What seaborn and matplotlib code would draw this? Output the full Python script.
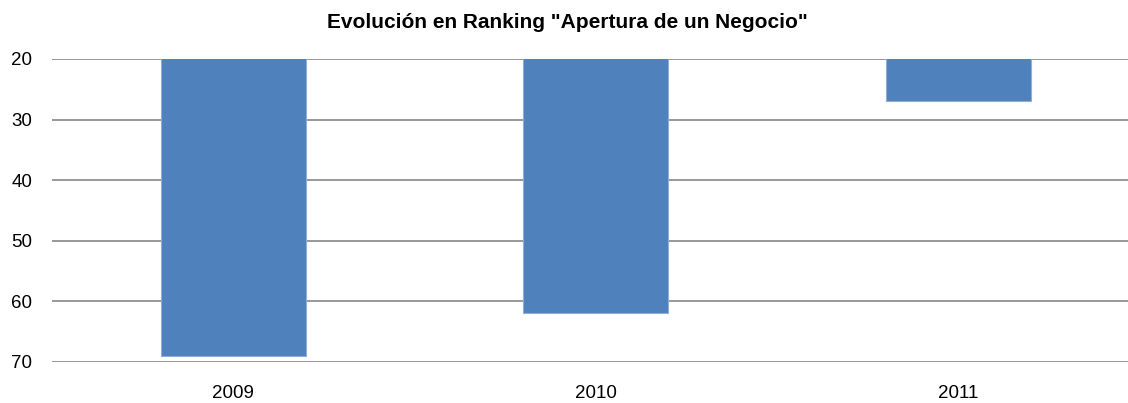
import matplotlib
matplotlib.use("Agg")
import matplotlib.pyplot as plt
import seaborn as sns
import pandas as pd

years = ["2009", "2010", "2011"]
ranking = [69, 62, 27]

sns.set_style("white")
plt.rcParams['font.family'] = ['Liberation Sans', 'DejaVu Sans']

df = pd.DataFrame({"year": years, "ranking": ranking})

fig = plt.figure(figsize=(11.28, 4.03), dpi=100)
ax = fig.add_axes([0.046, 0.1025, 0.954, 0.7511])

sns.barplot(data=df, x="year", y="ranking", color="#4F81BD", saturation=1,
            width=0.4, edgecolor="#8FAEDB", linewidth=0.8, ax=ax, zorder=3)

# inverted ranking axis, bars hang down from 20
ax.set_ylim(70, 20)
ax.set_yticks([20, 30, 40, 50, 60, 70])
ax.set_xlim(-0.5, 2.468)
ax.yaxis.grid(True, color="#868686", linewidth=1.2, zorder=0)
ax.set_axisbelow(True)
for s in ax.spines.values():
    s.set_visible(False)
ax.tick_params(axis="both", length=0, labelsize=13.5, labelcolor="#000000")
ax.tick_params(axis="y", pad=14)
ax.tick_params(axis="x", pad=17)
ax.set_xlabel("")
ax.set_ylabel("")

fig.text(0.503, 0.945, 'Evolución en Ranking "Apertura de un Negocio"',
         ha="center", va="center", fontsize=15, fontweight="bold", color="#000000")

fig.savefig("out.png", dpi=100)
